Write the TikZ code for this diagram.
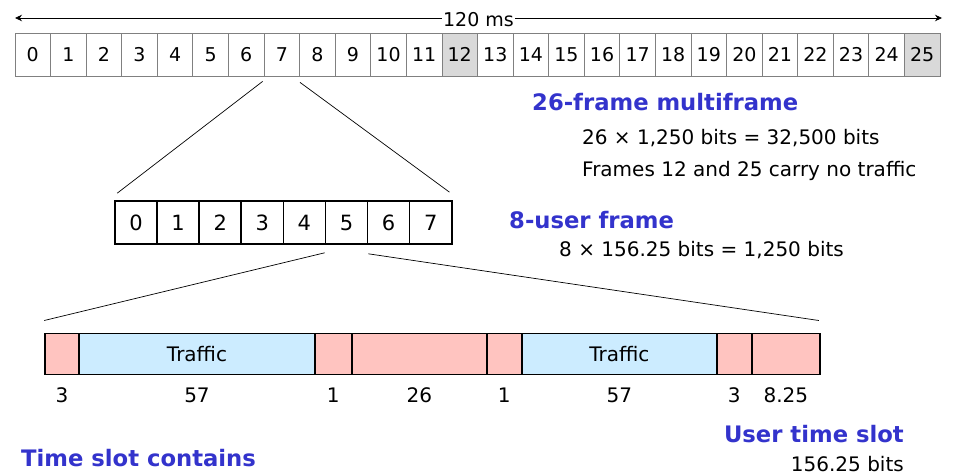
\documentclass[tikz,border=0pt]{standalone}
\usepackage{fontspec}
\setmainfont{DejaVu Sans}
\usetikzlibrary{arrows.meta}
\definecolor{idle}{RGB}{217,217,217}
\definecolor{ctrl}{RGB}{255,196,192}
\definecolor{data}{RGB}{204,236,255}
\definecolor{head}{RGB}{51,51,204}
\newcommand{\txt}{\fontsize{20}{24}\selectfont}
\newcommand{\hdr}{\fontsize{22.7}{26}\selectfont\bfseries\color{head}}

\begin{document}
\begin{tikzpicture}[x=1pt, y=-1pt,
		frm/.style={draw=gray, line width=0.8pt, minimum width=35.58pt, minimum height=43pt, inner sep=0pt, text height=14pt, text depth=0pt, font=\fontsize{19}{21}\selectfont},
		usr/.style={draw, line width=1.6pt, minimum width=42.09pt, minimum height=43pt, inner sep=0pt, text height=15pt, text depth=0pt, font=\fontsize{21}{24}\selectfont},
		bit/.style={draw, line width=1.6pt, minimum height=41pt, inner sep=0pt, font=\txt},
		num/.style={inner sep=0pt, text height=15pt, text depth=0pt, font=\txt},
		note/.style={inner sep=0pt, font=\txt, anchor=base west},
		title/.style={inner sep=0pt, font=\hdr, anchor=base west}]
	\useasboundingbox (0,0) rectangle (955,476);
	\coordinate (tl) at (15,18);
	\coordinate (tr) at (942,18);
	\draw[{Stealth[length=7pt,width=6.5pt]}-{Stealth[length=7pt,width=6.5pt]}, line width=0.8pt] (tl) -- node[fill=white, inner sep=1pt, yshift=-1.5pt, font=\fontsize{19}{21}\selectfont] (len) {120 ms} (tr);
	\foreach \i in {0,...,25}
		\node[frm] (f\i) at ({15+35.577*(\i+0.5)}, 54.5) {\i};
	\node[frm, fill=idle] at (f12) {12};
	\node[frm, fill=idle] at (f25) {25};
	\foreach \i in {0,...,7}
		\node[usr] (m\i) at ({115+42.09*(\i+0.5)}, 222.5) {\i};
	\foreach \a/\b/\c/\t/\n [count=\k] in {45/79/ctrl//3, 79/315/data/Traffic/57, 315/351.7/ctrl//1, 351.7/487/ctrl//26, 487/521.7/ctrl//1, 521.7/717/data/Traffic/57, 717/751.7/ctrl//3, 751.7/820/ctrl//8.25} {
		\node[bit, fill=\c, minimum width={\b-\a}] (s\k) at ({(\a+\b)/2}, 353.8) {\t};
		\node[num] (b\k) at ({(\a+\b)/2}, 395) {\n};
	}
	\draw[line width=0.7pt] ([xshift=-1pt,yshift=-5pt]f7.south west) -- ([xshift=3pt,yshift=7pt]m0.north west);
	\draw[line width=0.7pt] ([yshift=-6pt]f7.south east) -- ([xshift=-3pt,yshift=8pt]m7.north east);
	\draw[line width=0.7pt] ([yshift=-8pt]m5.south west) -- ([yshift=12pt]s1.north west);
	\draw[line width=0.7pt] ([yshift=-9pt]m5.south east) -- ([xshift=-2pt,yshift=12pt]s8.north east);
	\node[title] (multi) at (532,110.7) {26-frame multiframe};
	\node[note] (multibits) at (582,144) {26 × 1,250 bits = 32,500 bits};
	\node[note] (idlenote) at (582,176.7) {Frames 12 and 25 carry no traffic};
	\node[title] (user) at (509,228) {8-user frame};
	\node[note] (userbits) at (559,256.7) {8 × 156.25 bits = 1,250 bits};
	\node[title] (slot) at (21,466.7) {Time slot contains};
	\node[title, anchor=base east] (uslot) at (904,442.7) {User time slot};
	\node[note, anchor=base east] (uslotbits) at (904,471.7) {156.25 bits};
\end{tikzpicture}
\end{document}
